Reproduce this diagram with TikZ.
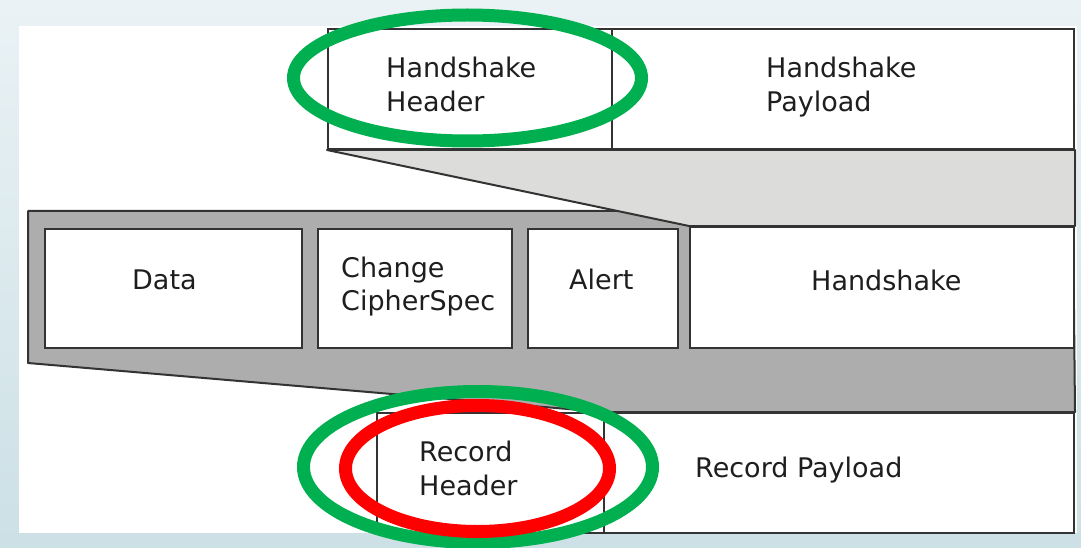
\documentclass[tikz,border=0pt]{standalone}
\usepackage{fontspec}
\setmainfont{DejaVu Sans}
\usetikzlibrary{shapes.geometric}
\definecolor{bgtop}{HTML}{EAF2F5}
\definecolor{bgbot}{HTML}{CCE0E6}
\definecolor{ringgreen}{HTML}{00B050}
\definecolor{ringred}{HTML}{FF0000}
\definecolor{shadelight}{HTML}{DCDCDA}
\definecolor{shadedark}{HTML}{ADADAD}
\definecolor{edge}{HTML}{333333}
\definecolor{ink}{HTML}{1E1E1E}
\begin{document}
\begin{tikzpicture}[x=1pt,y=-1pt,
  field/.style={draw=edge, line width=2pt, fill=white, inner sep=0pt,
                anchor=north west, rectangle},
  lbl/.style={anchor=base west, inner sep=0pt, text=ink,
              font=\fontsize{27}{34}\selectfont},
  band/.style={draw=edge, line width=2pt, line join=round},
  ring/.style={ellipse, draw, line width=13pt, inner sep=0pt},
]
% page background and white panel
\shade[top color=bgtop, bottom color=bgbot] (0,0) rectangle (1081,548);
\useasboundingbox (0,0) rectangle (1081,548);
\fill[white] (19,26) rectangle (1077,533);

% record layer fields
\node[field, line width=1.6pt, minimum width=227pt, minimum height=120pt] (rhdr) at (376,412) {};
\node[field, minimum width=470pt, minimum height=120pt] (rpay) at (603,412) {};

% record content band (dark) fanning out of the record payload
\coordinate (bandTL) at (28,211);
\coordinate (bandTR) at (1073,211);
\coordinate (bandBL) at (28,363);
\filldraw[band, fill=shadedark] (bandTL) -- (bandTR) -- (rpay.north east)
  -- (rpay.north west) -- (bandBL) -- cycle;

% content types
\node[field, minimum width=257pt, minimum height=119pt] (data) at (44,228) {};
\node[field, minimum width=194pt, minimum height=119pt] (ccs) at (317,228) {};
\node[field, minimum width=150pt, minimum height=119pt] (alert) at (527,228) {};
\node[field, minimum width=384pt, minimum height=121pt] (hs) at (689,226) {};

% handshake layer fields
\node[field, minimum width=284pt, minimum height=120pt] (hhdr) at (327,28) {};
\node[field, minimum width=462pt, minimum height=120pt] (hpay) at (611,28) {};

% handshake expansion band (light)
\filldraw[band, fill=shadelight] (hhdr.south west) -- (hpay.south east)
  -- (hs.north east) -- (hs.north west) -- cycle;

% labels
\node[lbl] (hhdrA) at (386,78) {Handshake};
\node[lbl] (hhdrB) at (386,112) {Header};
\node[lbl] (hpayA) at (766,78) {Handshake};
\node[lbl] (hpayB) at (766,112) {Payload};
\node[lbl] (dataL) at (132,289) {Data};
\node[lbl] (ccsA) at (341,277) {Change};
\node[lbl] (ccsB) at (341,310) {CipherSpec};
\node[lbl] (alertL) at (569,289) {Alert};
\node[lbl] (hsL) at (811,290) {Handshake};
\node[lbl] (rhdrA) at (419,461) {Record};
\node[lbl] (rhdrB) at (419,495) {Header};
\node[lbl] (rpayL) at (695,477) {Record Payload};

% highlight rings
\node[ring, draw=ringgreen, minimum width=348pt, minimum height=126pt] (ringTop) at (467.5,78) {};
\node[ring, draw=ringgreen, minimum width=349pt, minimum height=151pt] (ringOuter) at (478,467) {};
\node[ring, draw=ringred, minimum width=264pt, minimum height=126pt] (ringInner) at (477.5,468.5) {};
\end{tikzpicture}
\end{document}
